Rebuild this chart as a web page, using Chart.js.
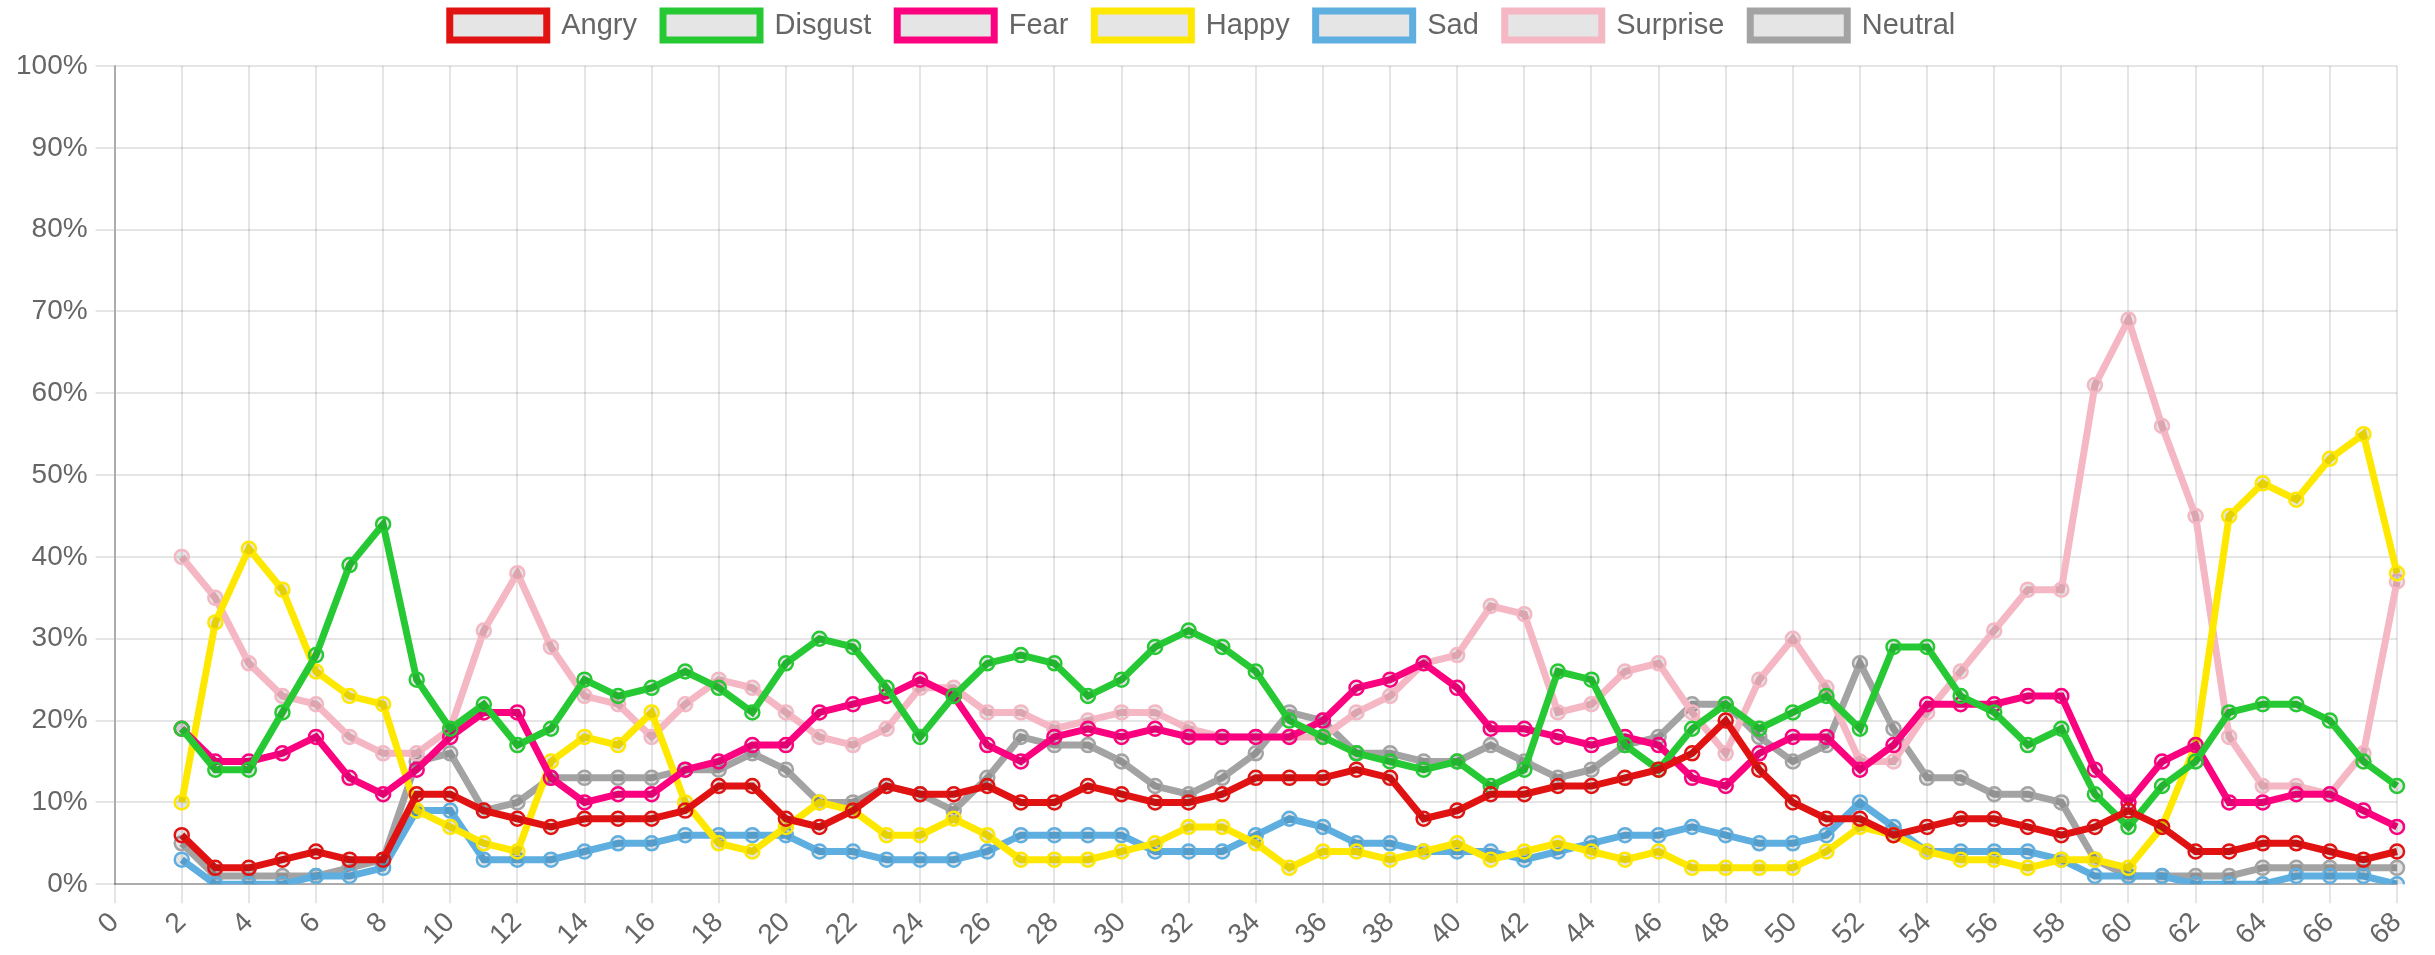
<!DOCTYPE html>
<html>
<head>
<meta charset="utf-8">
<script src="https://cdn.jsdelivr.net/npm/chart.js@4/dist/chart.umd.min.js"></script>
<style>
  html, body { margin: 0; padding: 0; background: #fff; }
  #wrap { width: 2435px; height: 955px; }
</style>
</head>
<body>
<div id="wrap"><canvas id="emotion-chart"></canvas></div>
<script>
// frame numbers along the x axis
const labels = [];
for (let i = 0; i <= 68; i++) labels.push(String(i));

// emotion percentages per frame (frames 0 and 1 have no data)
const angry = [null, null,
  6, 2, 2, 3, 4, 3, 3, 11, 11, 9, 8, 7, 8, 8, 8, 9, 12, 12, 8, 7, 9, 12, 11, 11,
  12, 10, 10, 12, 11, 10, 10, 11, 13, 13, 13, 14, 13, 8, 9, 11, 11, 12, 12, 13, 14, 16,
  20, 14, 10, 8, 8, 6, 7, 8, 8, 7, 6, 7, 9, 7, 4, 4, 5, 5, 4, 3, 4];
const disgust = [null, null,
  19, 14, 14, 21, 28, 39, 44, 25, 19, 22, 17, 19, 25, 23, 24, 26, 24, 21, 27, 30, 29, 24, 18, 23,
  27, 28, 27, 23, 25, 29, 31, 29, 26, 20, 18, 16, 15, 14, 15, 12, 14, 26, 25, 17, 14, 19,
  22, 19, 21, 23, 19, 29, 29, 23, 21, 17, 19, 11, 7, 12, 15, 21, 22, 22, 20, 15, 12];
const fear = [null, null,
  19, 15, 15, 16, 18, 13, 11, 14, 18, 21, 21, 13, 10, 11, 11, 14, 15, 17, 17, 21, 22, 23, 25, 23,
  17, 15, 18, 19, 18, 19, 18, 18, 18, 18, 20, 24, 25, 27, 24, 19, 19, 18, 17, 18, 17, 13,
  12, 16, 18, 18, 14, 17, 22, 22, 22, 23, 23, 14, 10, 15, 17, 10, 10, 11, 11, 9, 7];
const happy = [null, null,
  10, 32, 41, 36, 26, 23, 22, 9, 7, 5, 4, 15, 18, 17, 21, 10, 5, 4, 7, 10, 9, 6, 6, 8,
  6, 3, 3, 3, 4, 5, 7, 7, 5, 2, 4, 4, 3, 4, 5, 3, 4, 5, 4, 3, 4, 2,
  2, 2, 2, 4, 7, 6, 4, 3, 3, 2, 3, 3, 2, 7, 17, 45, 49, 47, 52, 55, 38];
const sad = [null, null,
  3, 0, 0, 0, 1, 1, 2, 9, 9, 3, 3, 3, 4, 5, 5, 6, 6, 6, 6, 4, 4, 3, 3, 3,
  4, 6, 6, 6, 6, 4, 4, 4, 6, 8, 7, 5, 5, 4, 4, 4, 3, 4, 5, 6, 6, 7,
  6, 5, 5, 6, 10, 7, 4, 4, 4, 4, 3, 1, 1, 1, 0, 0, 0, 1, 1, 1, 0];
const surprise = [null, null,
  40, 35, 27, 23, 22, 18, 16, 16, 19, 31, 38, 29, 23, 22, 18, 22, 25, 24, 21, 18, 17, 19, 24, 24,
  21, 21, 19, 20, 21, 21, 19, 18, 18, 18, 18, 21, 23, 27, 28, 34, 33, 21, 22, 26, 27, 21,
  16, 25, 30, 24, 15, 15, 21, 26, 31, 36, 36, 61, 69, 56, 45, 18, 12, 12, 11, 16, 37];
const neutral = [null, null,
  5, 1, 1, 1, 1, 2, 3, 15, 16, 9, 10, 13, 13, 13, 13, 14, 14, 16, 14, 10, 10, 12, 11, 9,
  13, 18, 17, 17, 15, 12, 11, 13, 16, 21, 20, 16, 16, 15, 15, 17, 15, 13, 14, 17, 18, 22,
  22, 18, 15, 17, 27, 19, 13, 13, 11, 11, 10, 3, 1, 1, 1, 1, 2, 2, 2, 2, 2];

const yTicks = [0, 10, 20, 30, 40, 50, 60, 70, 80, 90, 100];

const colors = {
    angry: '#e01212',
    disgust: '#26c934',
    fear: '#fb007f',
    happy: '#ffe800',
    sad: '#5eaee0',
    surprise: '#f4b7c3',
    neutral: '#a3a3a3'
};

const gridColor = 'rgba(0,0,0,0.1)';
const fill = 'rgba(0,0,0,0.1)';

function series(label, data, color) {
    return {
        label: label,
        data: data,
        borderColor: color,
        backgroundColor: fill,
        pointBackgroundColor: fill,
        pointBorderColor: color,
        borderWidth: 7,
        pointRadius: 7,
        pointBorderWidth: 2.5,
        tension: 0,
        fill: false
    };
}

// push the legend up a bit and leave a gap under it
const legendGap = {
    id: 'legendGap',
    beforeInit(chart) {
        const fit = chart.legend.fit;
        chart.legend.fit = function () {
            fit.bind(chart.legend)();
            this.height += 16;
        };
    }
};

Chart.defaults.font.family = "'Liberation Sans', Arial, sans-serif";
Chart.defaults.color = '#666';

new Chart(document.getElementById('emotion-chart'), {
    type: 'line',
    data: {
        labels: labels,
        datasets: [
            series('Angry', angry, colors.angry),
            series('Disgust', disgust, colors.disgust),
            series('Fear', fear, colors.fear),
            series('Happy', happy, colors.happy),
            series('Sad', sad, colors.sad),
            series('Surprise', surprise, colors.surprise),
            series('Neutral', neutral, colors.neutral)
        ]
    },
    plugins: [legendGap],
    options: {
        responsive: true,
        maintainAspectRatio: false,
        animation: false,
        layout: { padding: { left: 8, right: 38, top: -15, bottom: 0 } },
        plugins: {
            legend: {
                display: true,
                position: 'top',
                labels: {
                    boxWidth: 97,
                    boxHeight: 29,
                    padding: 26,
                    font: { size: 29 },
                    color: '#666'
                }
            },
            tooltip: { enabled: false }
        },
        scales: {
            x: {
                grid: {
                    color: gridColor,
                    lineWidth: 2,
                    tickLength: 19
                },
                border: { color: 'rgba(0,0,0,0.25)', width: 2 },
                ticks: {
                    autoSkip: false,
                    minRotation: 45,
                    maxRotation: 45,
                    padding: 3,
                    font: { size: 28 },
                    callback: function (value, index) {
                        return index % 2 === 0 ? this.getLabelForValue(value) : null;
                    }
                }
            },
            y: {
                min: yTicks[0],
                max: yTicks[yTicks.length - 1],
                grid: {
                    color: gridColor,
                    lineWidth: 2,
                    tickLength: 19
                },
                border: { color: 'rgba(0,0,0,0.25)', width: 2 },
                ticks: {
                    stepSize: yTicks[1] - yTicks[0],
                    padding: 8,
                    font: { size: 28 },
                    callback: (v) => v + '%'
                }
            }
        }
    }
});
</script>
</body>
</html>
